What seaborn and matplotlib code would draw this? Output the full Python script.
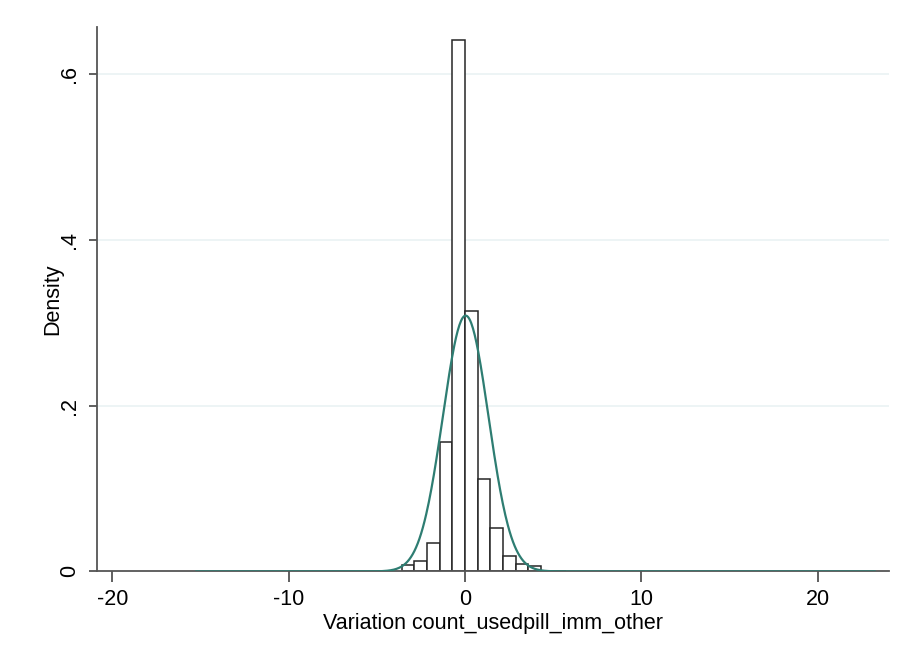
import numpy as np
import matplotlib
matplotlib.use("Agg")
import matplotlib.pyplot as plt
import seaborn as sns

# histogram bins (edges) and bar densities
bin_edges = [-3.585, -2.868, -2.151, -1.434, -0.717, 0.0, 0.717, 1.434,
             2.151, 2.868, 3.585, 4.302, 5.019, 5.736]
density = [0.0077, 0.0126, 0.0346, 0.1565, 0.6406, 0.3147, 0.111,
           0.0527, 0.019, 0.0086, 0.0065, 0.0008, 0.0005]

# normal overlay (mean, sd) and the data range it spans
norm_mean = 0.04
norm_sd = 1.293
data_min, data_max = -15.26, 23.26

x_ticks = [-20, -10, 0, 10, 20]
y_ticks = [0, 0.2, 0.4, 0.6]
y_ticklabels = ["0", ".2", ".4", ".6"]

sns.set_style("white")
plt.rcParams["font.family"] = ["Liberation Sans", "DejaVu Sans"]
plt.rcParams["axes.unicode_minus"] = False
plt.rcParams["text.color"] = "black"
plt.rcParams["axes.labelcolor"] = "black"
plt.rcParams["xtick.color"] = "black"
plt.rcParams["ytick.color"] = "black"

fig = plt.figure(figsize=(9.04, 6.58), dpi=100)
ax = fig.add_axes([0.1073, 0.1316, 0.8761, 0.8275])

ax.grid(False)
for yv in y_ticks[1:]:
    ax.axhline(yv, color="#EAF2F3", lw=1.2, zorder=0)

centers = [(a + b) / 2 for a, b in zip(bin_edges[:-1], bin_edges[1:])]
sns.histplot(x=centers, weights=density, bins=bin_edges, stat="count",
             color="white", edgecolor="#262626", linewidth=1.1, alpha=1,
             ax=ax, zorder=2)

xs = np.linspace(data_min, data_max, 800)
pdf = np.exp(-0.5 * ((xs - norm_mean) / norm_sd) ** 2) / (norm_sd * np.sqrt(2 * np.pi))
sns.lineplot(x=xs, y=pdf, color="#2E7D72", lw=1.6, ax=ax, zorder=3)

ax.set_xlim(-20.87, 24.05)
ax.set_ylim(0, 0.6568)
ax.set_xticks(x_ticks)
ax.set_yticks(y_ticks)
ax.set_yticklabels(y_ticklabels, rotation=90, va="center")
ax.tick_params(axis="x", bottom=True, direction="out", length=8, width=1.2,
               color="#444444", labelcolor="black", labelsize=15.5, pad=5)
ax.tick_params(axis="y", left=True, direction="out", length=6, width=1.2,
               color="#444444", labelcolor="black", labelsize=15.5, pad=6)
ax.set_xlabel("Variation count_usedpill_imm_other", fontsize=15.5, labelpad=2)
ax.set_ylabel("Density", fontsize=15.5, labelpad=-3)

for side in ["top", "right"]:
    ax.spines[side].set_visible(False)
for side in ["left", "bottom"]:
    ax.spines[side].set_color("#555555")
    ax.spines[side].set_linewidth(1.3)

fig.savefig("out.png", dpi=100, facecolor="white")
